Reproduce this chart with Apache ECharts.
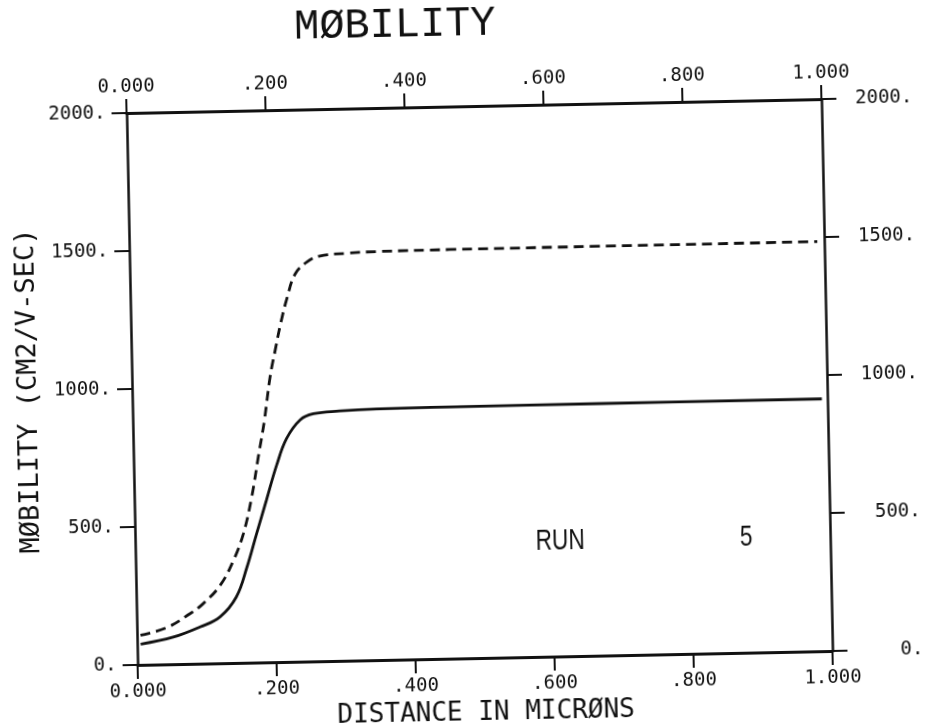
<!DOCTYPE html>
<html>
<head>
<meta charset="utf-8">
<script src="https://cdn.jsdelivr.net/npm/echarts@6.0.0/dist/echarts.min.js"></script>
<style>
  html, body { margin: 0; padding: 0; background: #fff; overflow: hidden; }
  /* the plotter sheet sits slightly turned on the page */
  #chart { width: 928px; height: 728px; transform: rotate(-1.15deg); transform-origin: 479.5px 381.75px; }
</style>
</head>
<body>
<div id="chart"></div>
<script>
// Electron mobility profile vs depth (solid and dashed runs)
const solidDist = [0.005, 0.052, 0.091, 0.120, 0.144, 0.160, 0.175, 0.190, 0.206, 0.221, 0.241, 0.260, 0.298, 0.351, 0.457, 0.673, 0.992];
const solidMob  = [75,    98,    133,   168,   239,   345,   467,   587,   715,   810,   876,   897,   905,   910,   912,   913,   914];

const dashDist = [0.005, 0.043, 0.077, 0.096, 0.121, 0.141, 0.156, 0.169, 0.180, 0.189, 0.199, 0.207, 0.216, 0.226, 0.238, 0.255, 0.274, 0.313, 0.356, 0.461, 0.677, 0.990];
const dashMob  = [107,   133,   182,   217,   282,   372,   468,   600,   750,   870,   1035,  1130,  1230,  1322,  1405,  1447,  1468,  1476,  1480,  1482,  1483,  1484];

const distTickLabels = ['0.000', '.200', '.400', '.600', '.800', '1.000'];
const mobTickLabels  = ['0.', '500.', '1000.', '1500.', '2000.'];

const INK = '#111';
const MONO = '"DejaVu Sans Mono", "Liberation Mono", monospace';
const THIN = '"Liberation Mono", "DejaVu Sans Mono", monospace';
const SANS = '"Liberation Sans", Arial, sans-serif';

const pairs = (xs, ys) => xs.map((x, i) => [x, ys[i]]);
const distLabel = v => distTickLabels[Math.round(v / 0.2)];
const mobLabel = v => mobTickLabels[Math.round(v / 500)];

const tickLabelStyle = { fontFamily: MONO, fontSize: 19, color: INK };

function distAxis(pos, extra) {
  return Object.assign({
    type: 'value', position: pos, min: 0, max: 1, interval: 0.2,
    axisLine: { show: true, onZero: false, lineStyle: { color: INK, width: 3 } },
    axisTick: { show: true, length: 14, lineStyle: { color: INK, width: 2 } },
    splitLine: { show: false },
    axisLabel: Object.assign({ formatter: distLabel, margin: pos === 'top' ? 16 : 18 }, tickLabelStyle)
  }, extra || {});
}

function mobAxis(pos, extra) {
  return Object.assign({
    type: 'value', position: pos, min: 0, max: 2000, interval: 500,
    axisLine: { show: true, onZero: false, lineStyle: { color: INK, width: 2.5 } },
    axisTick: { show: true, length: 15, lineStyle: { color: INK, width: 2 } },
    splitLine: { show: false },
    axisLabel: Object.assign({ formatter: mobLabel, margin: pos === 'left' ? 21 : 91, align: 'right' }, tickLabelStyle)
  }, extra || {});
}

const chart = echarts.init(document.getElementById('chart'), null, { renderer: 'canvas' });

chart.setOption({
  animation: false,
  backgroundColor: '#fff',
  grid: { left: 132, top: 106, width: 695, height: 552, containLabel: false, outerBoundsMode: 'none' },
  xAxis: [
    distAxis('bottom', {
      name: 'DISTANCE IN MICRØNS', nameLocation: 'middle', nameGap: 31,
      nameTextStyle: { fontFamily: MONO, fontSize: 26, color: INK }
    }),
    distAxis('top')
  ],
  yAxis: [
    mobAxis('left', {
      name: 'MØBILITY (CM2/V-SEC)', nameLocation: 'middle', nameGap: 90, nameRotate: 90,
      nameTextStyle: { fontFamily: MONO, fontSize: 27, color: INK }
    }),
    mobAxis('right')
  ],
  graphic: [
    { type: 'text', x: 402, y: 24, style: { text: 'MØBILITY', align: 'center', verticalAlign: 'middle', fontFamily: THIN, fontSize: 42, fill: INK } },
    { type: 'text', x: 557, y: 543, scaleX: 0.78, style: { text: 'RUN', align: 'center', verticalAlign: 'middle', fontFamily: SANS, fontSize: 29, fill: INK } },
    { type: 'text', x: 743, y: 543, scaleX: 0.78, style: { text: '5', align: 'center', verticalAlign: 'middle', fontFamily: SANS, fontSize: 29, fill: INK } }
  ],
  series: [
    {
      name: 'solid', type: 'line', xAxisIndex: 0, yAxisIndex: 0,
      data: pairs(solidDist, solidMob), showSymbol: false, smooth: 0.4,
      lineStyle: { color: INK, width: 2.8, type: 'solid' }
    },
    {
      name: 'dashed', type: 'line', xAxisIndex: 0, yAxisIndex: 0,
      data: pairs(dashDist, dashMob), showSymbol: false, smooth: 0.4,
      lineStyle: { color: INK, width: 2.8, type: [10, 6] }
    }
  ]
});
</script>
</body>
</html>
